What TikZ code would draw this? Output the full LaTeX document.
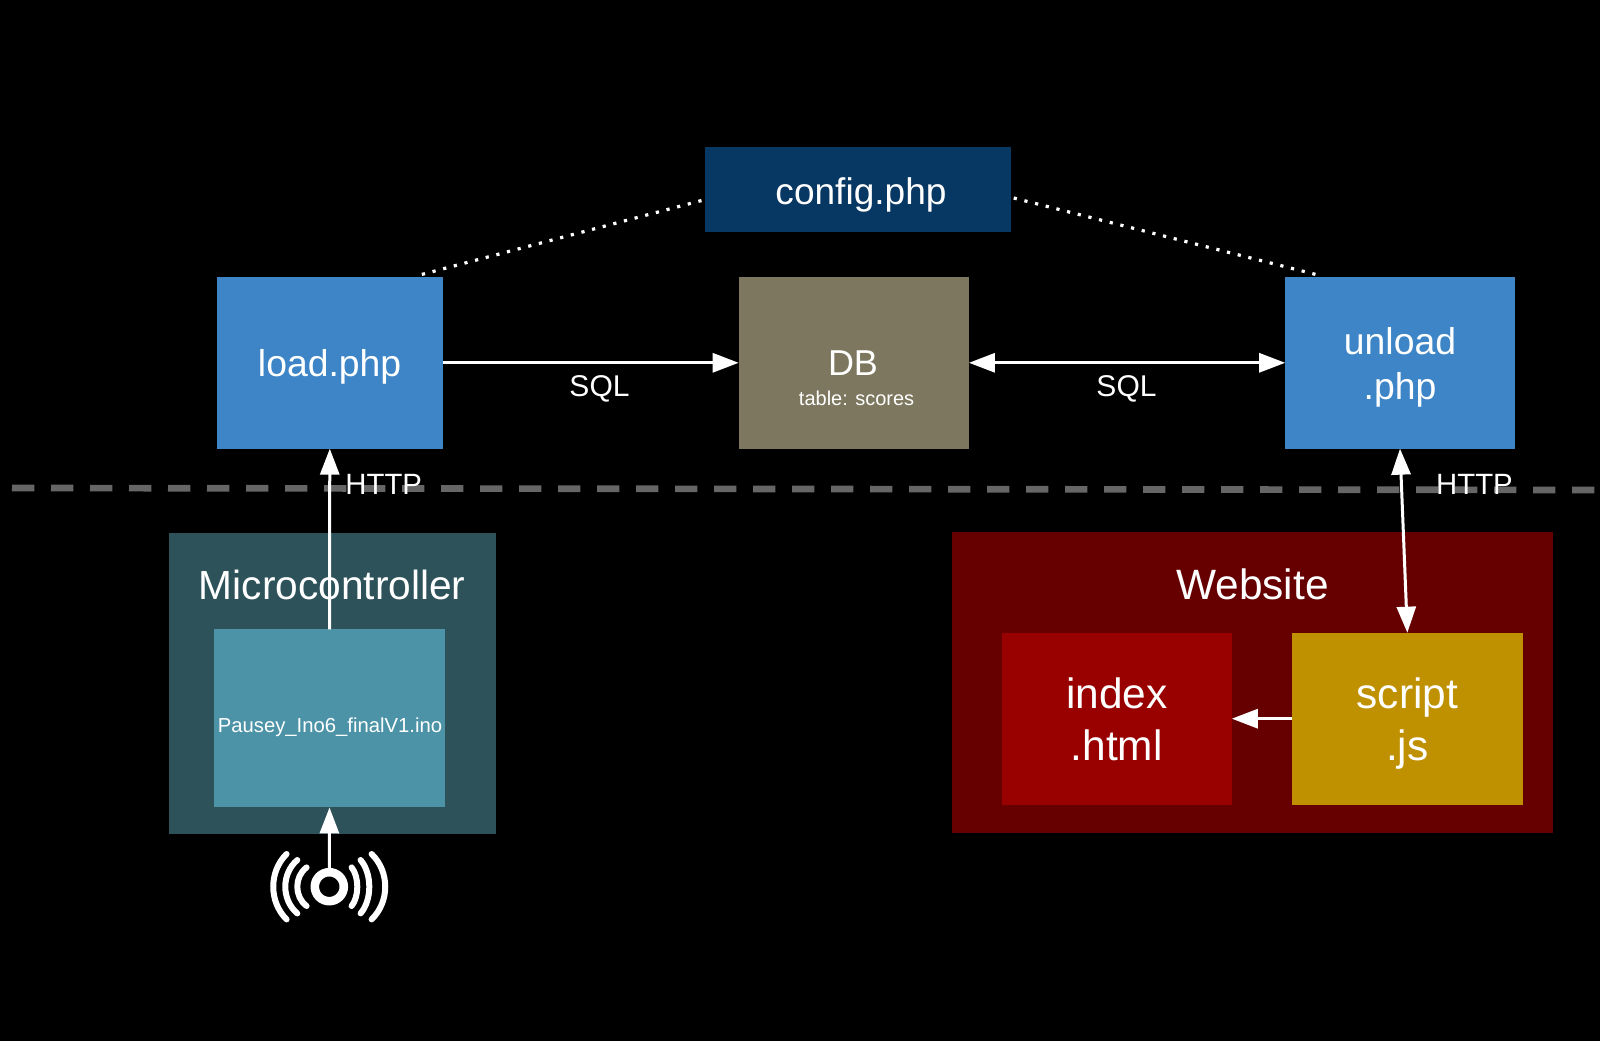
\documentclass[tikz,border=0pt]{standalone}
\usepackage{fontspec}
\setmainfont{Liberation Sans}
\usetikzlibrary{arrows.meta,calc}
\definecolor{phpblue}{HTML}{3D85C6}
\definecolor{cfgblue}{HTML}{073763}
\definecolor{dbolive}{HTML}{7C775E}
\definecolor{mcuouter}{HTML}{2D525A}
\definecolor{mcuinner}{HTML}{4C93A7}
\definecolor{webouter}{HTML}{660000}
\definecolor{webinner}{HTML}{990000}
\definecolor{jsgold}{HTML}{BF9000}
\definecolor{dashgrey}{HTML}{666666}
\tikzset{
  x=0.75pt,y=-0.75pt,
  boxn/.style={rectangle,draw=none,inner sep=0pt,outer sep=0pt,text=white,align=center},
  txt/.style={inner sep=0pt,outer sep=0pt,text=white,align=center},
  link/.style={draw=white,line width=2.25pt},
  arrowh/.style={>={Triangle[length=19.5pt,width=14.25pt]}},
  dotline/.style={draw=white,line width=2.4pt,dash pattern=on 2.4pt off 5.85pt},
}
\begin{document}
\begin{tikzpicture}[arrowh]
\fill[black] (0,0) rectangle (1600,1041);
\useasboundingbox (0,0) rectangle (1600,1041);
% outer containers
\node[boxn,fill=mcuouter,minimum width=245.2pt,minimum height=225.5pt] (mcu) at (332.2,683.4) {};
\node[boxn,fill=webouter,minimum width=451pt,minimum height=225.3pt] (web) at (1252.3,682.5) {};
% dashed separator
\coordinate (dashL) at (12,488);
\coordinate (dashR) at (1600,490);
\draw[dashgrey,line width=5pt,dash pattern=on 16.8pt off 12.45pt] (dashL) -- (dashR);
% boxes
\node[boxn,fill=cfgblue,minimum width=229.3pt,minimum height=63.75pt] (config) at (857.85,189.5) {};
\node[boxn,fill=phpblue,minimum width=169.8pt,minimum height=128.8pt] (load) at (329.8,362.8) {};
\node[boxn,fill=dbolive,minimum width=172.7pt,minimum height=128.8pt] (db) at (853.8,362.8) {};
\node[boxn,fill=phpblue,minimum width=172.2pt,minimum height=128.8pt] (unload) at (1400,362.8) {};
\node[boxn,fill=mcuinner,minimum width=173.25pt,minimum height=133.6pt] (ino) at (329.5,718.4) {};
\node[boxn,fill=webinner,minimum width=172.35pt,minimum height=129pt] (index) at (1116.9,718.7) {};
\node[boxn,fill=jsgold,minimum width=173.3pt,minimum height=129pt] (script) at (1407.35,718.7) {};
\node[circle,draw=white,line width=6.4pt,minimum size=21.75pt,inner sep=0pt,fill=none] (sensor) at (329.3,886.7) {};
% sensor waves
\begin{scope}[shift={(329.3,886.7)},white,line width=4.5pt,line cap=round]
  \draw (22.3,-19.3) .. controls (29.9,-10) and (29.9,10) .. (22.3,19.3);
  \draw (31.3,-26.7) .. controls (42.9,-13) and (42.9,13) .. (31.3,26.7);
  \draw (42.3,-32.7) .. controls (60.5,-15) and (60.5,15) .. (42.3,32.7);
  \draw (-22.7,-19.3) .. controls (-35.1,-10) and (-35.1,10) .. (-22.7,19.3);
  \draw (-32,-26.7) .. controls (-48,-13) and (-48,13) .. (-32,26.7);
  \draw (-42.7,-32.7) .. controls (-60.5,-15) and (-60.5,15) .. (-42.7,32.7);
\end{scope}
% connectors
\draw[link,->] (load.east) -- (db.west);
\draw[link,<->] (db.east) -- (unload.west);
\draw[link,->] (ino.north) -- (load.south);
\draw[link,<->] (unload.south) -- (script.north);
\draw[link,->] (script.west) -- (index.east);
\draw[link,->] (sensor.north) -- (ino.south);
\draw[dotline] ($(config.north west)!0.63!(config.south west)+(-3.5,0)$) -- ($(load.north west)!0.89!(load.north east)+(0,-1.5)$);
\draw[dotline] ($(config.north east)!0.60!(config.south east)+(3,0)$) -- ($(unload.north west)!0.15!(unload.north east)+(0,-1.5)$);
% labels
\node[txt,font=\fontsize{27.8pt}{33pt}\selectfont] (cfglbl) at (861,195) {config.php};
\node[txt,font=\fontsize{28pt}{33.75pt}\selectfont] (loadlbl) at (329.6,367) {load.php};
\node[txt,font=\fontsize{28pt}{33.75pt}\selectfont] (unloadlbl) at (1400,367) {unload\\.php};
\node[txt,font=\fontsize{27pt}{32pt}\selectfont] (dblbl) at (853,363) {DB};
\node[txt,font=\fontsize{15pt}{18pt}\selectfont] (tbllbl) at (856.6,398) {table: scores};
\node[txt,font=\fontsize{22.5pt}{27pt}\selectfont] (sql1) at (599.5,389) {SQL};
\node[txt,font=\fontsize{22.5pt}{27pt}\selectfont] (sql2) at (1126.5,389) {SQL};
\node[txt,font=\fontsize{22pt}{26pt}\selectfont] (http1) at (383.7,484) {HTTP};
\node[txt,font=\fontsize{22pt}{26pt}\selectfont] (http2) at (1474.5,484) {HTTP};
\node[txt,font=\fontsize{30.5pt}{36pt}\selectfont] (mculbl) at (332.2,585) {Microcontroller};
\node[txt,font=\fontsize{31.8pt}{37pt}\selectfont] (weblbl) at (1252.5,584.5) {Website};
\node[txt,font=\fontsize{15.2pt}{18pt}\selectfont] (inolbl) at (330,727) {Pausey\_Ino6\_finalV1.ino};
\node[txt,font=\fontsize{31.8pt}{39pt}\selectfont] (indexlbl) at (1116.7,719) {index\\.html};
\node[txt,font=\fontsize{31.8pt}{39pt}\selectfont] (scriptlbl) at (1407.3,723.5) {script\\.js};
\end{tikzpicture}
\end{document}
